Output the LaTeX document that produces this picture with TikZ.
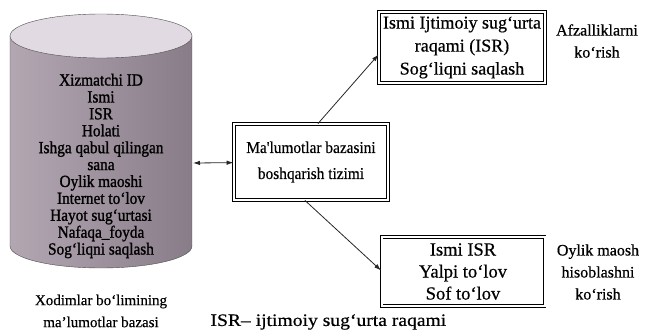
\documentclass[tikz,border=0pt]{standalone}
\usepackage{fontspec}
\setmainfont[FakeBold=0.5]{Liberation Serif}
\newfontfamily\dbfont[FakeStretch=0.9,FakeBold=1.2]{Liberation Serif}
\newfontfamily\boxfont[FakeStretch=0.93,FakeBold=0.5]{Liberation Serif}
\newfontfamily\widefont[FakeStretch=1.12,FakeBold=0.5]{Liberation Serif}
\usetikzlibrary{arrows.meta}
\definecolor{dbbody}{RGB}{152,138,152}
\definecolor{dbtop}{RGB}{226,218,226}
\begin{document}
\begin{tikzpicture}[x=1pt,y=-1pt,
    box/.style={draw,double,double distance=2pt,line width=0.9pt,align=center},
    lbl/.style={align=center,font=\fontsize{15}{22}\selectfont},
    arr/.style={-{Latex[length=7pt,width=4.5pt]},line width=0.8pt,black!85}]
  \useasboundingbox (0,0) rectangle (649,334);
  % baza silindri
  \shade[left color=dbbody!75!white,right color=dbbody!90!black,draw=black!70]
    (10,36) -- (10,246) arc[start angle=180,end angle=0,x radius=91,y radius=22] -- (192,36) -- cycle;
  \filldraw[fill=dbtop,draw=black!70] (101,36) ellipse[x radius=91,y radius=22];
  \node[lbl,font=\dbfont\fontsize{17}{16.9}\selectfont] (db) at (101,166) {Xizmatchi ID\\Ismi\\ISR\\Holati\\Ishga qabul qilingan\\sana\\Oylik maoshi\\Internet to‘lov\\Hayot sug‘urtasi\\Nafaqa\_foyda\\Sog‘liqni saqlash};
  \coordinate (dbe) at (193,163);
  \node[lbl] (dbname) at (101,311) {Xodimlar bo‘limining\\ma'lumotlar bazasi};
  % boshqarish tizimi va oynalar
  \node[box,minimum width=154pt,minimum height=76pt,font=\boxfont\fontsize{16.5}{26}\selectfont] (dbms) at (311,162) {Ma'lumotlar bazasini\\boshqarish tizimi};
  \node[box,minimum width=166pt,minimum height=71pt,inner xsep=1pt,font=\fontsize{18}{23}\selectfont] (afz) at (462,47.5) {Ismi Ijtimoiy sug‘urta\\raqami (ISR)\\Sog‘liqni saqlash};
  \node[box,minimum width=163pt,minimum height=69pt,font=\fontsize{18.5}{22}\selectfont] (oylik) at (463,271.5) {Ismi ISR\\Yalpi to‘lov\\Sof to‘lov};
  \node[lbl,font=\fontsize{16}{22}\selectfont] (afzl) at (597,41) {Afzalliklarni\\ko‘rish};
  \node[lbl,font=\fontsize{16}{22}\selectfont] (oylikl) at (598,272) {Oylik maosh\\hisoblashni\\ko‘rish};
  \node[lbl,anchor=west,font=\widefont\fontsize{17.5}{22}\selectfont] (izoh) at (207,322) {ISR– ijtimoiy sug‘urta raqami};
  \draw[arr,{Latex[length=7pt,width=4.5pt]}-{Latex[length=7pt,width=4.5pt]}] (dbe) -- (dbms);
  \draw[arr] ([xshift=7pt]dbms.north) -- ([yshift=-7pt]afz.west);
  \draw[arr] ([xshift=-6pt]dbms.south) -- ([yshift=1pt]oylik.west);
\end{tikzpicture}
\end{document}
